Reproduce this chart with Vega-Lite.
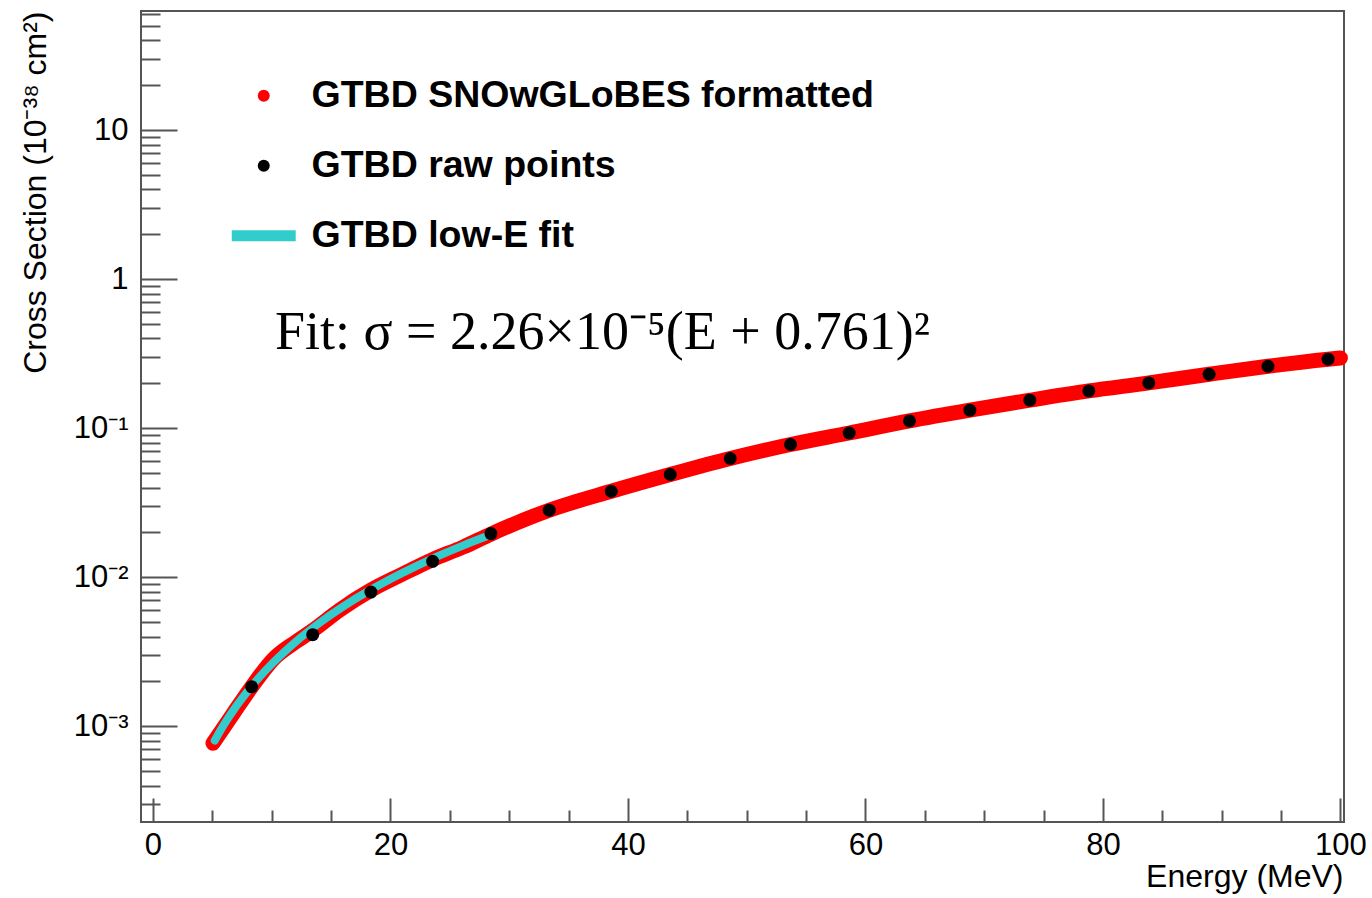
{
  "$schema": "https://vega.github.io/schema/vega-lite/v6.json",
  "width": 1203,
  "height": 811,
  "autosize": "none",
  "padding": {"left": 141, "top": 11, "right": 28, "bottom": 76},
  "background": "white",
  "config": {
    "view": {"stroke": "#555555", "strokeWidth": 2},
    "axis": {
      "grid": false,
      "domain": false,
      "labelFont": "Liberation Sans",
      "labelFontSize": 31,
      "labelColor": "#000000",
      "labelFlush": false,
      "labelOverlap": false,
      "titleFont": "Liberation Sans",
      "titleFontSize": 32,
      "titleColor": "#000000",
      "titleFontWeight": "normal",
      "tickColor": "#555555",
      "tickWidth": 2
    }
  },
  "datasets": {
    "red": [
      {"E": 5.05, "xs": 0.00077},
      {"E": 6.76, "xs": 0.00122},
      {"E": 8.31, "xs": 0.00184},
      {"E": 10.13, "xs": 0.00282},
      {"E": 12.1, "xs": 0.00372},
      {"E": 13.45, "xs": 0.0044},
      {"E": 15.74, "xs": 0.00605},
      {"E": 18.35, "xs": 0.0082},
      {"E": 20.8, "xs": 0.0103},
      {"E": 23.55, "xs": 0.01315},
      {"E": 26.13, "xs": 0.01596},
      {"E": 28.46, "xs": 0.0195},
      {"E": 33.37, "xs": 0.02818},
      {"E": 38.59, "xs": 0.03776},
      {"E": 43.56, "xs": 0.0489},
      {"E": 48.61, "xs": 0.06266},
      {"E": 53.69, "xs": 0.07777},
      {"E": 58.63, "xs": 0.0929},
      {"E": 63.71, "xs": 0.1119},
      {"E": 68.79, "xs": 0.1321},
      {"E": 73.84, "xs": 0.1542},
      {"E": 78.81, "xs": 0.1779},
      {"E": 83.86, "xs": 0.2014},
      {"E": 88.94, "xs": 0.2303},
      {"E": 93.9, "xs": 0.2606},
      {"E": 98.96, "xs": 0.2904},
      {"E": 100.0, "xs": 0.296}
    ],
    "fit": [
      {"E": 5.2, "xs": 0.000803},
      {"E": 6, "xs": 0.001033},
      {"E": 7, "xs": 0.001361},
      {"E": 8, "xs": 0.001735},
      {"E": 9, "xs": 0.002153},
      {"E": 10, "xs": 0.002617},
      {"E": 12, "xs": 0.00368},
      {"E": 14, "xs": 0.004924},
      {"E": 16, "xs": 0.006349},
      {"E": 18, "xs": 0.007955},
      {"E": 20, "xs": 0.009741},
      {"E": 22, "xs": 0.011708},
      {"E": 24, "xs": 0.013856},
      {"E": 26, "xs": 0.016185},
      {"E": 28.15, "xs": 0.01889}
    ],
    "raw": [
      {"E": 8.31, "xs": 0.00184, "series": "GTBD raw points"},
      {"E": 13.45, "xs": 0.00412, "series": "GTBD raw points"},
      {"E": 18.35, "xs": 0.00796, "series": "GTBD raw points"},
      {"E": 23.55, "xs": 0.0128, "series": "GTBD raw points"},
      {"E": 28.46, "xs": 0.01965, "series": "GTBD raw points"},
      {"E": 33.37, "xs": 0.02818, "series": "GTBD raw points"},
      {"E": 38.59, "xs": 0.03776, "series": "GTBD raw points"},
      {"E": 43.56, "xs": 0.0489, "series": "GTBD raw points"},
      {"E": 48.61, "xs": 0.06266, "series": "GTBD raw points"},
      {"E": 53.69, "xs": 0.07777, "series": "GTBD raw points"},
      {"E": 58.63, "xs": 0.0929, "series": "GTBD raw points"},
      {"E": 63.71, "xs": 0.1119, "series": "GTBD raw points"},
      {"E": 68.79, "xs": 0.1321, "series": "GTBD raw points"},
      {"E": 73.84, "xs": 0.1542, "series": "GTBD raw points"},
      {"E": 78.81, "xs": 0.1779, "series": "GTBD raw points"},
      {"E": 83.86, "xs": 0.2014, "series": "GTBD raw points"},
      {"E": 88.94, "xs": 0.2303, "series": "GTBD raw points"},
      {"E": 93.9, "xs": 0.2606, "series": "GTBD raw points"},
      {"E": 98.96, "xs": 0.2904, "series": "GTBD raw points"}
    ],
    "note": [
      {"label": "Fit: σ = 2.26×10⁻⁵(E + 0.761)²"}
    ]
  },
  "layer": [
    {
      "data": {"name": "red"},
      "mark": {"type": "line", "color": "#ff0000", "strokeWidth": 15, "strokeCap": "round", "strokeJoin": "round", "interpolate": "monotone"},
      "encoding": {
        "x": {
          "field": "E", "type": "quantitative",
          "scale": {"domain": [-1.01, 100.3], "nice": false, "zero": false},
          "axis": {
            "orient": "bottom", "values": [0, 20, 40, 60, 80, 100], "ticks": false,
            "labelPadding": 8,
            "title": "Energy (MeV)", "titleX": 1202, "titleY": 64, "titleAlign": "right", "titleBaseline": "alphabetic", "titleAnchor": null
          }
        },
        "y": {
          "field": "xs", "type": "quantitative",
          "scale": {"type": "log", "domain": [0.000228, 63], "nice": false},
          "axis": {
            "orient": "left", "values": [0.001, 0.01, 0.1, 1, 10], "ticks": false,
            "labelPadding": 13,
            "labelExpr": "datum.value >= 9 ? '10' : datum.value >= 0.9 ? '1' : datum.value >= 0.09 ? '10⁻¹' : datum.value >= 0.009 ? '10⁻²' : '10⁻³'",
            "title": "Cross Section (10⁻³⁸ cm²)", "titleAngle": -90, "titleX": -96, "titleY": 0, "titleAlign": "right", "titleBaseline": "alphabetic", "titleAnchor": null
          }
        }
      }
    },
    {
      "data": {"name": "fit"},
      "mark": {"type": "line", "color": "#33cccc", "strokeWidth": 8, "strokeCap": "round", "strokeJoin": "round", "interpolate": "monotone"},
      "encoding": {
        "x": {
          "field": "E", "type": "quantitative",
          "axis": {"orient": "bottom", "values": [0, 20, 40, 60, 80, 100], "labels": false, "title": null, "tickSize": -24}
        },
        "y": {
          "field": "xs", "type": "quantitative",
          "axis": {"orient": "left", "values": [0.001, 0.01, 0.1, 1, 10], "labels": false, "title": null, "tickSize": -36}
        }
      }
    },
    {
      "data": {"name": "raw"},
      "mark": {"type": "point", "filled": true, "opacity": 1, "size": 169, "strokeWidth": 0},
      "encoding": {
        "x": {
          "field": "E", "type": "quantitative",
          "axis": {"orient": "bottom", "values": [5, 10, 15, 25, 30, 35, 45, 50, 55, 65, 70, 75, 85, 90, 95], "labels": false, "title": null, "tickSize": -12}
        },
        "y": {
          "field": "xs", "type": "quantitative",
          "axis": {"orient": "left", "values": [0.0003, 0.0004, 0.0005, 0.0006, 0.0007, 0.0008, 0.0009, 0.002, 0.003, 0.004, 0.005, 0.006, 0.007, 0.008, 0.009, 0.02, 0.03, 0.04, 0.05, 0.06, 0.07, 0.08, 0.09, 0.2, 0.3, 0.4, 0.5, 0.6, 0.7, 0.8, 0.9, 2, 3, 4, 5, 6, 7, 8, 9, 20, 30, 40, 50, 60], "labels": false, "title": null, "tickSize": -19}
        },
        "color": {
          "field": "series", "type": "nominal",
          "scale": {"domain": ["GTBD SNOwGLoBES formatted", "GTBD raw points", "GTBD low-E fit"], "range": ["#ff0000", "#000000", "#33cccc"]},
          "legend": {
            "title": null, "orient": "none", "legendX": 104, "legendY": 66, "padding": 0,
            "labelFont": "Liberation Sans", "labelFontSize": 37.5, "labelFontWeight": "bold", "labelColor": "#000000",
            "labelLimit": 2000, "symbolSize": 144, "labelOffset": 29, "rowPadding": 31, "symbolStrokeWidth": 0, "symbolOpacity": 1
          }
        },
        "shape": {
          "field": "series", "type": "nominal",
          "scale": {"domain": ["GTBD SNOwGLoBES formatted", "GTBD raw points", "GTBD low-E fit"], "range": ["circle", "circle", "M-5.33,-0.92H5.33V0.92H-5.33Z"]},
          "legend": {
            "title": null, "orient": "none", "legendX": 104, "legendY": 66, "padding": 0,
            "labelFont": "Liberation Sans", "labelFontSize": 37.5, "labelFontWeight": "bold", "labelColor": "#000000",
            "labelLimit": 2000, "symbolSize": 144, "labelOffset": 29, "rowPadding": 31, "symbolStrokeWidth": 0, "symbolOpacity": 1
          }
        }
      }
    },
    {
      "data": {"name": "note"},
      "mark": {"type": "text", "font": "Liberation Serif", "fontSize": 54, "align": "left", "baseline": "alphabetic", "color": "#000000"},
      "encoding": {
        "text": {"field": "label", "type": "nominal"},
        "x": {"datum": 10.27, "type": "quantitative", "axis": null},
        "y": {"datum": 0.339, "type": "quantitative", "axis": null}
      }
    }
  ],
  "resolve": {"axis": {"x": "independent", "y": "independent"}}
}
